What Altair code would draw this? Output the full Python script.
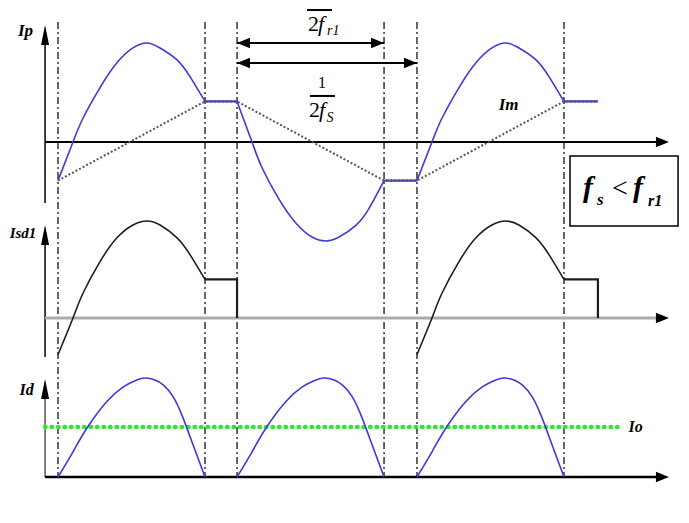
import altair as alt
import pandas as pd

# ---------------- layout of the single layered view ----------------
# time unit = half resonant period 1/(2 fr1); current unit = peak of Ip
T_MIN, T_MAX = -0.3401, 4.2381
Y_MAX = 1.3535
Y_MIN = Y_MAX - 5.0
W, H = 673, 495

# panel baselines (display offsets)
OFFSET = {"Ip": 0.0, "Im": 0.0, "Isd1": -1.778, "Id": -3.384}

# ---------------- data ----------------
EDGES = [0.0, 1.0, 1.218, 2.218, 2.442, 3.442]          # dash-dot vertical lines
EDGE_TOP, EDGE_BOT = 1.212, -3.384

HUMP_T = [0.0, 0.102, 0.170, 0.286, 0.401, 0.510, 0.605, 0.694, 0.810, 0.898, 1.0]
IP_HUMP_V = [-0.39, 0.0, 0.24, 0.55, 0.80, 0.95, 1.0, 0.95, 0.83, 0.66, 0.41]
IP_HUMP_START = [0.0, 2.442]
IP_TROUGH_T = [1.218, 1.320, 1.388, 1.504, 1.619, 1.728, 1.823, 1.912, 2.028, 2.116, 2.218]
IP_TROUGH_V = [0.41, 0.0, -0.26, -0.58, -0.82, -0.96, -1.0, -0.96, -0.84, -0.67, -0.39]
IP_FLAT_T = [[1.0, 1.218], [2.218, 2.442], [3.442, 3.673]]
IP_FLAT_V = [0.41, -0.39, 0.41]

IM_T = [0.0, 1.0, 1.218, 2.218, 2.442, 3.442, 3.673]
IM_V = [-0.39, 0.41, 0.41, -0.39, -0.39, 0.41, 0.41]

ISD_HUMP_V = [-0.37, 0.0, 0.25, 0.57, 0.81, 0.94, 0.98, 0.94, 0.81, 0.64, 0.39]
ISD_HUMP_START = [0.0, 2.442]
ISD_STEP_T = [[1.0, 1.218, 1.218], [3.442, 3.673, 3.673]]
ISD_STEP_V = [0.39, 0.39, 0.0]

ID_T = [0.0, 0.104, 0.195, 0.331, 0.444, 0.52, 0.592, 0.66, 0.716, 0.784, 0.85, 0.92, 1.0]
ID_V = [0.0, 0.26, 0.49, 0.76, 0.91, 0.97, 1.0, 0.98, 0.93, 0.81, 0.60, 0.32, 0.0]
ID_START = [0.0, 1.218, 2.442]

IO_LEVEL = 0.505
IO_T = [-0.088, 3.823]

BLUE = "#3b3bdc"
COLORS = {"Ip": BLUE, "Id": BLUE, "Isd1": "#1e1e1e"}

# ---------------- tables ----------------
curve_rows, poly_rows = [], []


def add(rows, sig, seg, ts, vs):
    for i, (t, v) in enumerate(zip(ts, vs)):
        rows.append(dict(seg=f"{sig}-{seg}", t=t, y=v + OFFSET[sig], i=i, col=COLORS[sig]))


for k, s in enumerate(IP_HUMP_START):
    add(curve_rows, "Ip", f"h{k}", [s + t for t in HUMP_T], IP_HUMP_V)
add(curve_rows, "Ip", "trough", IP_TROUGH_T, IP_TROUGH_V)
for k, (ts, v) in enumerate(zip(IP_FLAT_T, IP_FLAT_V)):
    add(poly_rows, "Ip", f"f{k}", ts, [v, v])
for k, s in enumerate(ISD_HUMP_START):
    add(curve_rows, "Isd1", f"h{k}", [s + t for t in HUMP_T], ISD_HUMP_V)
for k, ts in enumerate(ISD_STEP_T):
    add(poly_rows, "Isd1", f"s{k}", ts, ISD_STEP_V)
for k, s in enumerate(ID_START):
    add(curve_rows, "Id", f"h{k}", [s + t for t in ID_T], ID_V)

curves = pd.DataFrame(curve_rows)
polys = pd.DataFrame(poly_rows)
im_df = pd.DataFrame({"t": IM_T, "y": IM_V})
edges_df = pd.DataFrame({"t": EDGES, "y": [EDGE_TOP] * len(EDGES), "y2": [EDGE_BOT] * len(EDGES)})
io_df = pd.DataFrame({"t": [IO_T[0]], "t2": [IO_T[1]], "y": [IO_LEVEL + OFFSET["Id"]]})

AX_T, AX_END = -0.088, 4.07
axes_df = pd.DataFrame([
    dict(t=AX_T, t2=AX_T, y=-0.616, y2=0.98, c="#000000", w=1.5),
    dict(t=AX_T, t2=AX_END, y=0.0, y2=0.0, c="#000000", w=2.0),
    dict(t=AX_T, t2=AX_T, y=-2.172, y2=-1.02, c="#000000", w=1.5),
    dict(t=AX_T, t2=AX_END, y=-1.778, y2=-1.778, c="#ababab", w=3.0),
    dict(t=AX_T, t2=AX_T, y=-3.384, y2=-2.586, c="#555555", w=1.5),
    dict(t=AX_T, t2=AX_END, y=-3.384, y2=-3.384, c="#000000", w=2.5),
])

UP = "M0,-1L0.4,1L-0.4,1Z"
HEAD = "M0,-1L0.8,1L-0.8,1Z"
heads_df = pd.DataFrame([
    dict(t=AX_T, y=1.081, a=0, s=UP, z=400),
    dict(t=AX_T, y=-0.939, a=0, s=UP, z=400),
    dict(t=AX_T, y=-2.495, a=0, s=UP, z=400),
    dict(t=4.112, y=0.0, a=90, s=HEAD, z=169),
    dict(t=4.112, y=-1.778, a=90, s=HEAD, z=169),
    dict(t=4.112, y=-3.384, a=90, s=HEAD, z=169),
    dict(t=1.262, y=1.0, a=270, s=HEAD, z=169),
    dict(t=2.174, y=1.0, a=90, s=HEAD, z=169),
    dict(t=1.262, y=0.798, a=270, s=HEAD, z=169),
    dict(t=2.398, y=0.798, a=90, s=HEAD, z=169),
])

shafts_df = pd.DataFrame([
    dict(t=1.218, t2=2.218, y=1.0, y2=1.0),
    dict(t=1.218, t2=2.442, y=0.798, y2=0.798),
    dict(t=1.694, t2=1.864, y=1.333, y2=1.333),   # fraction bar 1/(2 fr1)
    dict(t=1.714, t2=1.884, y=0.465, y2=0.465),   # fraction bar 1/(2 fs)
])

box_df = pd.DataFrame([dict(t=3.483, t2=4.218, y=-0.141, y2=-0.848)])

labels_df = pd.DataFrame([
    dict(t=-0.221, y=1.121, txt="Ip", sz=17),
    dict(t=-0.238, y=-0.919, txt="Isd1", sz=15),
    dict(t=-0.214, y=-2.505, txt="Id", sz=16),
    dict(t=3.065, y=0.374, txt="Im", sz=17),
    dict(t=3.929, y=-2.879, txt="Io", sz=16),
])

# left-aligned italic-bold pieces of "fs < fr1"
box_txt = pd.DataFrame([
    dict(t=3.571, y=-0.556, txt="f", sz=30),
    dict(t=3.667, y=-0.636, txt="s", sz=17),
    dict(t=3.912, y=-0.556, txt="f", sz=30),
    dict(t=4.014, y=-0.646, txt="r1", sz=16),
])
lt_txt = pd.DataFrame([dict(t=3.823, y=-0.47, txt="<", sz=28)])

# fractions
frac_regular = pd.DataFrame([
    dict(t=1.701, y=1.121, txt="2", sz=22),
    dict(t=1.707, y=0.253, txt="2", sz=22),
])
frac_one = pd.DataFrame([dict(t=1.796, y=0.545, txt="1", sz=16)])
frac_italic = pd.DataFrame([
    dict(t=1.769, y=1.121, txt="f", sz=22),
    dict(t=1.830, y=1.081, txt="r1", sz=14),
    dict(t=1.776, y=0.253, txt="f", sz=22),
    dict(t=1.826, y=0.202, txt="S", sz=14),
])

# ---------------- encodings ----------------
XS = alt.Scale(domain=[T_MIN, T_MAX], nice=False, zero=False)
YS = alt.Scale(domain=[Y_MIN, Y_MAX], nice=False, zero=False)
X = alt.X("t:Q", scale=XS, axis=None)
Y = alt.Y("y:Q", scale=YS, axis=None)
SERIF = "Liberation Serif"

edges = alt.Chart(edges_df).mark_rule(color="#000000", strokeWidth=1.2, strokeDash=[7, 3, 2, 3]).encode(
    x=X, y=Y, y2="y2:Q")

axes = alt.Chart(axes_df).mark_rule().encode(
    x=X, x2="t2:Q", y=Y, y2="y2:Q",
    color=alt.Color("c:N", scale=None),
    strokeWidth=alt.StrokeWidth("w:Q", scale=None))

io_line = alt.Chart(io_df).mark_rule(color="#2ee82e", strokeWidth=4.5, strokeCap="round",
                                     strokeDash=[0.5, 6]).encode(x=X, x2="t2:Q", y=Y)

curve_layer = alt.Chart(curves).mark_line(interpolate="natural", strokeWidth=1.6).encode(
    x=X, y=Y, detail="seg:N", order="i:Q", color=alt.Color("col:N", scale=None))
poly_layer = alt.Chart(polys).mark_line(strokeWidth=2.2).encode(
    x=X, y=Y, detail="seg:N", order="i:Q", color=alt.Color("col:N", scale=None))
im_layer = alt.Chart(im_df).mark_line(color="#555555", strokeWidth=2, strokeDash=[2, 2]).encode(x=X, y=Y)

shafts = alt.Chart(shafts_df).mark_rule(color="#000000", strokeWidth=2).encode(x=X, x2="t2:Q", y=Y, y2="y2:Q")

heads = alt.Chart(heads_df).mark_point(filled=True, color="#000000", opacity=1, strokeWidth=0).encode(
    x=X, y=Y,
    shape=alt.Shape("s:N", scale=None),
    angle=alt.Angle("a:Q", scale=None),
    size=alt.Size("z:Q", scale=None))

box = alt.Chart(box_df).mark_rect(fill="#ffffff", stroke="#000000", strokeWidth=1.5).encode(
    x=X, x2="t2:Q", y=Y, y2="y2:Q")

labels = alt.Chart(labels_df).mark_text(font=SERIF, fontStyle="italic", fontWeight="bold",
                                        align="center", baseline="middle", color="#000000").encode(
    x=X, y=Y, text="txt:N", size=alt.Size("sz:Q", scale=None))

box_text = alt.Chart(box_txt).mark_text(font=SERIF, fontStyle="italic", fontWeight="bold",
                                        align="left", baseline="alphabetic", color="#000000").encode(
    x=X, y=Y, text="txt:N", size=alt.Size("sz:Q", scale=None))
lt_text = alt.Chart(lt_txt).mark_text(font=SERIF, align="center", baseline="middle", color="#000000").encode(
    x=X, y=Y, text="txt:N", size=alt.Size("sz:Q", scale=None))

frac_reg = alt.Chart(frac_regular).mark_text(font=SERIF, align="left", baseline="alphabetic",
                                             color="#000000").encode(
    x=X, y=Y, text="txt:N", size=alt.Size("sz:Q", scale=None))
frac_1 = alt.Chart(frac_one).mark_text(font=SERIF, align="center", baseline="alphabetic",
                                       color="#000000").encode(
    x=X, y=Y, text="txt:N", size=alt.Size("sz:Q", scale=None))
frac_it = alt.Chart(frac_italic).mark_text(font=SERIF, fontStyle="italic", align="left",
                                           baseline="alphabetic", color="#000000").encode(
    x=X, y=Y, text="txt:N", size=alt.Size("sz:Q", scale=None))

chart = alt.layer(
    edges, axes, io_line, poly_layer, curve_layer, im_layer, shafts, heads,
    box, labels, box_text, lt_text, frac_reg, frac_1, frac_it,
).properties(
    width=W, height=H, padding=0,
    autosize=alt.AutoSizeParams(type="none"),
).configure_view(strokeWidth=0)

chart.save("out.html", embed_options={"renderer": "svg", "actions": False})
